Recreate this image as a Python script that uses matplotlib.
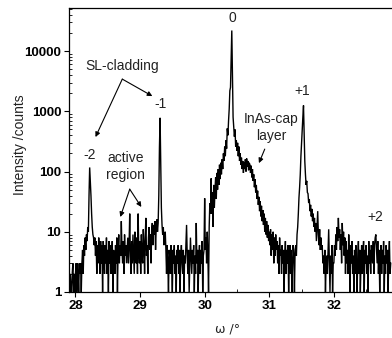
import numpy as np
import matplotlib
matplotlib.use("Agg")
import matplotlib.pyplot as plt
from matplotlib.ticker import LogLocator, FixedLocator, NullFormatter

# Omega-scan: counts recorded every 0.01 deg starting at 27.90 deg
scan_start = 27.90
scan_step = 0.01
counts = [
    # 27.90
    2, 1, 2, 1, 1, 2, 3, 1, 2, 1,
    # 28.00
    2, 3, 1, 3, 2, 1, 3, 2, 3, 1,
    # 28.10
    3, 5, 2, 6, 4, 8, 5, 9, 7, 12,
    # 28.20
    10, 40, 117, 70, 40, 20, 12, 9, 8, 6,
    # 28.30
    8, 4, 7, 2, 6, 3, 8, 5, 2, 7,
    # 28.40
    3, 6, 1, 7, 4, 2, 6, 3, 8, 2,
    # 28.50
    5, 1, 7, 3, 6, 2, 4, 7, 1, 5,
    # 28.60
    4, 2, 6, 3, 8, 1, 5, 9, 3, 6,
    # 28.70
    4, 15, 5, 3, 7, 2, 9, 4, 6, 3,
    # 28.80
    5, 8, 3, 6, 20, 4, 2, 7, 3, 9,
    # 28.90
    4, 2, 10, 6, 3, 8, 2, 20, 5, 3,
    # 29.00
    7, 2, 9, 4, 3, 11, 6, 2, 8, 17,
    # 29.10
    4, 6, 2, 8, 12, 5, 9, 3, 11, 14,
    # 29.20
    6, 13, 9, 15, 5, 12, 16, 10, 14, 40,
    # 29.30
    250, 780, 120, 25, 13, 9, 12, 6, 8, 10,
    # 29.40
    5, 2, 6, 3, 1, 5, 4, 2, 6, 3,
    # 29.50
    1, 5, 3, 6, 2, 4, 1, 5, 3, 6,
    # 29.60
    2, 5, 1, 4, 6, 3, 2, 5, 1, 4,
    # 29.70
    3, 6, 13, 4, 2, 5, 1, 3, 8, 4,
    # 29.80
    2, 5, 3, 6, 1, 4, 2, 14, 3, 5,
    # 29.90
    1, 4, 6, 2, 5, 3, 7, 1, 4, 5,
    # 30.00
    36, 5, 8, 3, 10, 4, 1, 12, 30, 20,
    # 30.10
    77, 20, 45, 12, 60, 25, 50, 80, 35, 95,
    # 30.20
    50, 110, 60, 130, 75, 140, 90, 160, 110, 200,
    # 30.30
    150, 260, 180, 330, 240, 520, 400, 700, 1100, 2200,
    # 30.40
    2500, 7600, 22000, 4000, 800, 560, 380, 500, 260, 330,
    # 30.50
    220, 300, 180, 260, 150, 200, 130, 170, 110, 150,
    # 30.60
    95, 140, 110, 160, 100, 165, 120, 150, 105, 140,
    # 30.70
    130, 95, 125, 80, 110, 70, 90, 55, 75, 45,
    # 30.80
    60, 35, 48, 28, 38, 22, 32, 18, 27, 15,
    # 30.90
    23, 13, 20, 10, 17, 9, 15, 8, 13, 7,
    # 31.00
    10, 6, 11, 4, 9, 5, 10, 3, 8, 4,
    # 31.10
    9, 5, 7, 3, 6, 2, 8, 4, 5, 2,
    # 31.20
    6, 3, 5, 1, 4, 7, 2, 5, 3, 6,
    # 31.30
    1, 4, 6, 2, 5, 1, 3, 6, 4, 1,
    # 31.40
    5, 6, 4, 9, 12, 20, 37, 55, 90, 180,
    # 31.50
    300, 500, 800, 1250, 400, 150, 90, 60, 70, 45,
    # 31.60
    43, 30, 35, 22, 28, 18, 24, 15, 20, 12,
    # 31.70
    17, 10, 14, 7, 12, 22, 9, 6, 11, 5,
    # 31.80
    8, 5, 6, 3, 4, 2, 5, 1, 3, 4,
    # 31.90
    2, 5, 11, 3, 1, 4, 2, 6, 1, 3,
    # 32.00
    3, 6, 4, 9, 5, 12, 7, 17, 8, 11,
    # 32.10
    5, 9, 3, 14, 6, 10, 4, 8, 2, 7,
    # 32.20
    3, 5, 2, 9, 4, 1, 6, 3, 7, 2,
    # 32.30
    4, 1, 5, 2, 6, 3, 1, 4, 7, 2,
    # 32.40
    5, 1, 3, 6, 2, 4, 7, 1, 5, 3,
    # 32.50
    6, 2, 4, 1, 7, 3, 5, 2, 6, 4,
    # 32.60
    3, 7, 2, 6, 8, 9, 5, 3, 7, 2,
    # 32.70
    5, 1, 4, 6, 2, 5, 3, 7, 1, 4,
    # 32.80
    2, 6, 3, 5, 1, 4, 7, 2, 3,
]
omega = scan_start + scan_step * np.arange(len(counts))

x_major_ticks = [28, 29, 30, 31, 32]
x_minor_ticks = [28.5, 29.5, 30.5, 31.5, 32.5]
y_major_ticks = [1, 10, 100, 1000, 10000]
y_tick_labels = ["1", "10", "100", "1000", "10000"]

tick_font = dict(family=["Liberation Sans Narrow", "Liberation Sans"],
                 weight="bold", size=9.5)
text_font = dict(family="Liberation Sans", size=10, color="#222222")

W, H = 392, 338
fig = plt.figure(figsize=(W / 100, H / 100), dpi=100)
ax = fig.add_axes([69 / W, 1 - 292 / H, 1 - 69 / W, (292 - 8) / H])

ax.plot(omega, counts, color="black", lw=1.0, solid_joinstyle="miter")

ax.set_yscale("log")
ax.set_xlim(27.9, 32.9)
ax.set_ylim(1, 52000)

ax.xaxis.set_major_locator(FixedLocator(x_major_ticks))
ax.xaxis.set_minor_locator(FixedLocator(x_minor_ticks))
ax.set_xticklabels([str(t) for t in x_major_ticks], fontdict=tick_font)
ax.yaxis.set_major_locator(FixedLocator(y_major_ticks))
ax.yaxis.set_minor_locator(LogLocator(base=10, subs=np.arange(2, 10)))
ax.yaxis.set_minor_formatter(NullFormatter())
ax.set_yticklabels(y_tick_labels, fontdict=tick_font)

ax.tick_params(which="major", direction="out", length=3.5, width=0.8, pad=2)
ax.tick_params(which="minor", direction="in", length=2.5, width=0.6)

for side in ("left", "top", "bottom"):
    ax.spines[side].set_linewidth(0.9)
ax.spines["right"].set_visible(False)

# Axis titles
fig.text(20 / W, 1 - 145 / H, "Intensity /counts", rotation=90,
         ha="center", va="center", fontsize=10, family="Liberation Sans",
         color="#222222")
fig.text(228 / W, 1 - 329 / H, "ω /°", ha="center", va="center",
         fontsize=9, family="DejaVu Sans", color="#222222")

arrow = dict(arrowstyle="-|>", lw=0.8, color="black", mutation_scale=7,
             shrinkA=0, shrinkB=0)

# Reflection order labels
ax.text(28.216, 188, "-2", ha="center", va="center", **text_font)
ax.text(29.31, 1320, "-1", ha="center", va="center", **text_font)
ax.text(30.43, 35300, "0", ha="center", va="center", **text_font)
ax.text(31.51, 2210, "+1", ha="center", va="center", **text_font)
ax.text(32.645, 17.6, "+2", ha="center", va="center", **text_font)

# Superlattice cladding satellites
ax.text(28.725, 5650, "SL-cladding", ha="center", va="center", **text_font)
ax.annotate("", xy=(28.31, 374), xytext=(28.725, 3430), arrowprops=arrow)
ax.annotate("", xy=(29.19, 1790), xytext=(28.725, 3430), arrowprops=arrow)

# Active region peaks
ax.text(28.77, 121, "active\nregion", ha="center", va="center",
        linespacing=1.2, **text_font)
ax.annotate("", xy=(28.694, 17.6), xytext=(28.84, 51), arrowprops=arrow)
ax.annotate("", xy=(29.02, 25.8), xytext=(28.84, 51), arrowprops=arrow)

# InAs cap shoulder
ax.text(31.03, 537, "InAs-cap\nlayer", ha="center", va="center",
        linespacing=1.2, **text_font)
ax.annotate("", xy=(30.84, 138), xytext=(30.93, 236), arrowprops=arrow)

fig.savefig("out.png", dpi=100)
